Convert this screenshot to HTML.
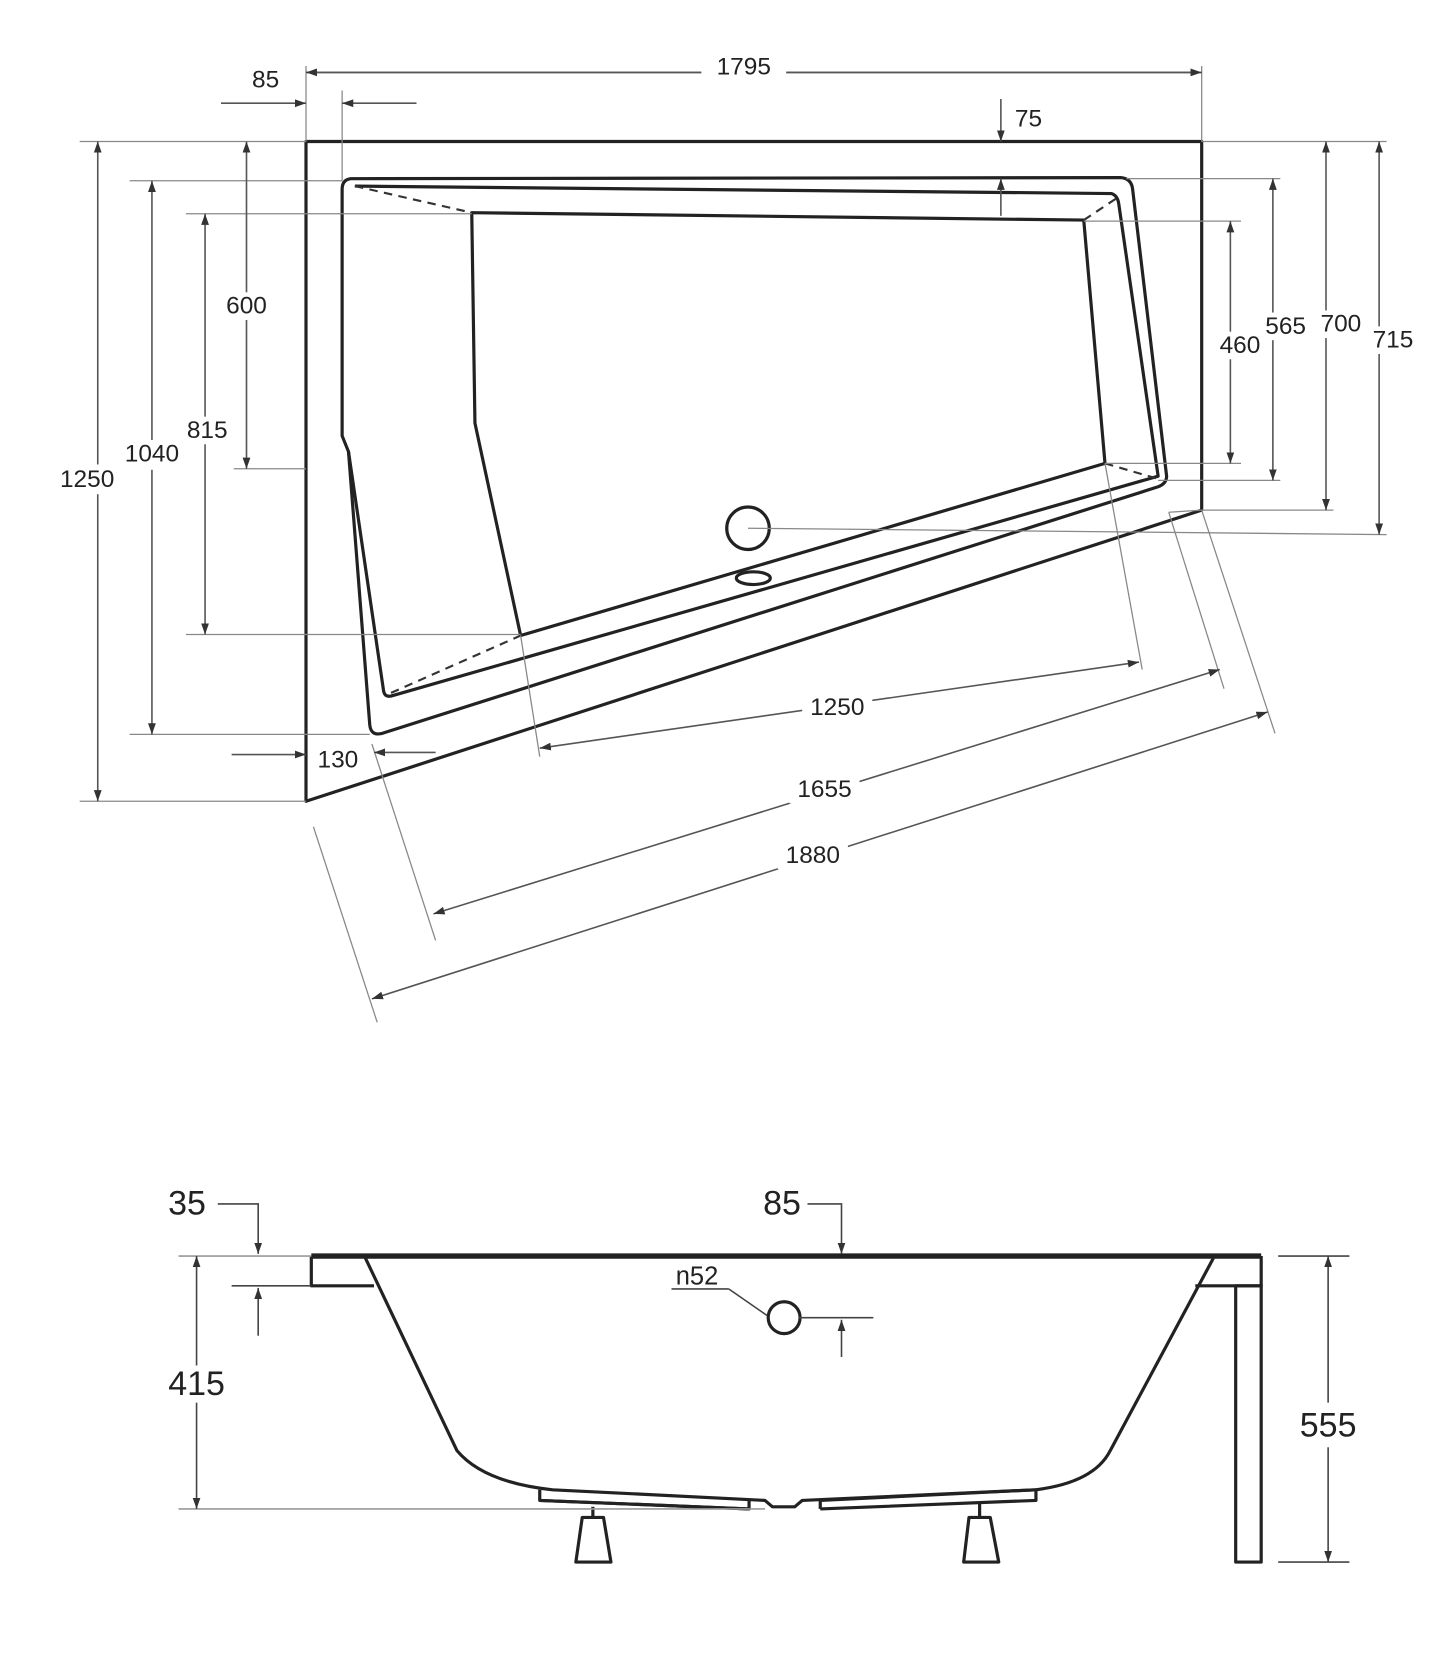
<!DOCTYPE html>
<html><head><style>html,body{margin:0;padding:0;background:#fff}svg{display:block}</style></head>
<body>
<svg width="1445" height="1661" viewBox="0 0 1360 1563" xmlns="http://www.w3.org/2000/svg" font-family="Liberation Sans, sans-serif">
<defs>
<marker id="a" viewBox="0 0 10 10" refX="10" refY="5" markerWidth="7" markerHeight="7" orient="auto-start-reverse"><path d="M0,1.5 L10,5 L0,8.5z" fill="#333"/></marker>
</defs>
<rect width="1360" height="1563" fill="#fff"/>
<!-- top view shapes -->
<g fill="none" stroke="#222" stroke-width="3" stroke-linejoin="round">
<polygon points="288,133 1131,133 1131,480 288,754"/>
<path d="M330,168 L1055,167 Q1065,168 1066,178 L1098,448 Q1098,455 1090,458 L360,690 Q349,693 348,682 L328,425 L322,410 L322,178 Q322,169 330,168Z"/>
<path d="M334,175 L1046,182 Q1052,184 1053,192 L1090,448 L368,655 Q362,656 361,650 L328,425"/>
<polygon points="444,200 1020,207 1040,436 490,598 447,398"/>
<circle cx="704" cy="497" r="20"/>
<ellipse cx="709" cy="544" rx="16" ry="6"/>
</g>
<g stroke="#333" stroke-width="2" stroke-dasharray="8,6" fill="none">
<line x1="334" y1="175" x2="444" y2="200"/><line x1="1050" y1="187" x2="1020" y2="207"/>
<line x1="1088" y1="450" x2="1040" y2="436"/><line x1="368" y1="652" x2="490" y2="598"/>
</g>
<!-- dimension lines -->
<g stroke="#888" stroke-width="1.2" fill="none">
<line x1="288" y1="62" x2="288" y2="133"/><line x1="1131" y1="62" x2="1131" y2="133"/>
<line x1="322" y1="85" x2="322" y2="170"/>
<line x1="75" y1="133" x2="288" y2="133"/><line x1="75" y1="754" x2="288" y2="754"/>
<line x1="122" y1="170" x2="322" y2="170"/><line x1="122" y1="691" x2="348" y2="691"/>
<line x1="175" y1="201" x2="444" y2="201"/><line x1="175" y1="597" x2="490" y2="597"/>
<line x1="220" y1="441" x2="288" y2="441"/>
<line x1="1131" y1="133" x2="1305" y2="133"/><line x1="1060" y1="168" x2="1205" y2="168"/>
<line x1="1020" y1="208" x2="1168" y2="208"/><line x1="1040" y1="436" x2="1168" y2="436"/>
<line x1="1090" y1="452" x2="1205" y2="452"/><line x1="1131" y1="480" x2="1255" y2="480"/>
<line x1="704" y1="497" x2="1305" y2="503"/>
<line x1="490" y1="598" x2="508" y2="712"/><line x1="1040" y1="436" x2="1075" y2="630"/>
<line x1="350" y1="700" x2="410" y2="885"/><line x1="1100" y1="482" x2="1152" y2="648"/>
<line x1="295" y1="778" x2="355" y2="962"/><line x1="1131" y1="480" x2="1200" y2="690"/>
<line x1="1100" y1="482" x2="1131" y2="480"/>
</g>
<g stroke="#555" stroke-width="1.5" fill="none" marker-start="url(#a)" marker-end="url(#a)">
<path d="M288,68 H660 M740,68 H1131" marker-start="none" marker-end="none"/>
<line x1="660" y1="68" x2="288" y2="68" marker-start="none"/><line x1="740" y1="68" x2="1131" y2="68" marker-start="none"/>
<line x1="208" y1="97" x2="288" y2="97" marker-start="none"/><line x1="392" y1="97" x2="322" y2="97" marker-start="none"/>
<line x1="942" y1="93" x2="942" y2="133" marker-start="none"/><line x1="942" y1="203" x2="942" y2="168" marker-start="none"/>
<line x1="92" y1="133" x2="92" y2="754"/>
<line x1="143" y1="170" x2="143" y2="691"/>
<line x1="193" y1="201" x2="193" y2="597"/>
<line x1="232" y1="133" x2="232" y2="441"/>
<line x1="218" y1="710" x2="288" y2="710" marker-start="none"/><line x1="410" y1="708" x2="352" y2="708" marker-start="none"/>
<line x1="1158" y1="208" x2="1158" y2="436"/>
<line x1="1198" y1="168" x2="1198" y2="452"/>
<line x1="1248" y1="133" x2="1248" y2="480"/>
<line x1="1298" y1="133" x2="1298" y2="503"/>
<line x1="508" y1="704" x2="1072" y2="623"/>
<line x1="408" y1="860" x2="1148" y2="630"/>
<line x1="350" y1="940" x2="1193" y2="670"/>
</g>
<g font-size="23" fill="#222" text-anchor="middle">
<rect x="663" y="50" width="75" height="24" fill="#fff"/><text x="700" y="70">1795</text>
<text x="250" y="82">85</text><text x="968" y="119">75</text>
<rect x="60" y="437" width="50" height="28" fill="#fff"/><text x="82" y="458">1250</text>
<rect x="115" y="414" width="56" height="28" fill="#fff"/><text x="143" y="434">1040</text>
<rect x="170" y="392" width="50" height="26" fill="#fff"/><text x="195" y="412">815</text>
<rect x="207" y="275" width="50" height="26" fill="#fff"/><text x="232" y="295">600</text>
<text x="318" y="722">130</text>
<rect x="1145" y="312" width="42" height="26" fill="#fff"/><text x="1167" y="332">460</text>
<rect x="1188" y="294" width="44" height="26" fill="#fff"/><text x="1210" y="314">565</text>
<rect x="1240" y="292" width="44" height="26" fill="#fff"/><text x="1262" y="312">700</text>
<rect x="1289" y="307" width="44" height="26" fill="#fff"/><text x="1311" y="327">715</text>
<rect x="755" y="652" width="66" height="26" fill="#fff"/><text x="788" y="673">1250</text>
<rect x="743" y="730" width="66" height="26" fill="#fff"/><text x="776" y="750">1655</text>
<rect x="732" y="792" width="66" height="26" fill="#fff"/><text x="765" y="812">1880</text>
</g>
<!-- side view -->
<g fill="none" stroke="#222" stroke-width="3" stroke-linejoin="round">
<line x1="293" y1="1182" x2="1187" y2="1182" stroke-width="5"/>
<path d="M293,1182 V1210 H352"/>
<path d="M343,1182 L430,1365 Q455,1395 520,1402 L720,1412 L727,1418 L748,1418 L755,1412 L975,1402 Q1030,1395 1045,1365 L1142,1184"/>
<path d="M1125,1210 H1187 V1182"/>
<rect x="1163" y="1210" width="24" height="260"/>
<path d="M508,1402 V1412 L705,1420"/><path d="M772,1420 V1412 L975,1402 V1412 L772,1420"/>
<path d="M508,1412 L705,1420 V1412"/>
<path d="M548,1428 H568 L575,1470 H542Z"/><path d="M912,1428 H932 L940,1470 H907Z"/>
<line x1="558" y1="1418" x2="558" y2="1428"/><line x1="922" y1="1414" x2="922" y2="1428"/>
<circle cx="738" cy="1240" r="15"/>
</g>
<g stroke="#444" stroke-width="1.5" fill="none">
<line x1="168" y1="1182" x2="293" y2="1182" stroke="#999"/><line x1="168" y1="1420" x2="720" y2="1420" stroke="#999"/>
<line x1="218" y1="1210" x2="293" y2="1210"/>
<path d="M205,1133 H243 V1180" marker-end="url(#a)"/>
<path d="M760,1133 H792 V1180" marker-end="url(#a)"/>
<line x1="243" y1="1257" x2="243" y2="1212" marker-end="url(#a)"/>
<line x1="752" y1="1240" x2="822" y2="1240"/>
<line x1="792" y1="1277" x2="792" y2="1242" marker-end="url(#a)"/>
<line x1="632" y1="1213" x2="686" y2="1213"/><line x1="686" y1="1213" x2="722" y2="1238"/>
<line x1="185" y1="1182" x2="185" y2="1285" marker-start="url(#a)"/><line x1="185" y1="1320" x2="185" y2="1420" marker-end="url(#a)"/>
<line x1="1203" y1="1182" x2="1270" y2="1182"/><line x1="1203" y1="1470" x2="1270" y2="1470"/>
<line x1="1250" y1="1182" x2="1250" y2="1320" marker-start="url(#a)"/><line x1="1250" y1="1362" x2="1250" y2="1470" marker-end="url(#a)"/>
</g>
<g font-size="32" fill="#222" text-anchor="middle">
<text x="176" y="1143">35</text><text x="736" y="1143">85</text>
<text x="185" y="1313">415</text><text x="1250" y="1352">555</text>
<text x="656" y="1209" font-size="24">n52</text>
</g>
</svg>
</body></html>
